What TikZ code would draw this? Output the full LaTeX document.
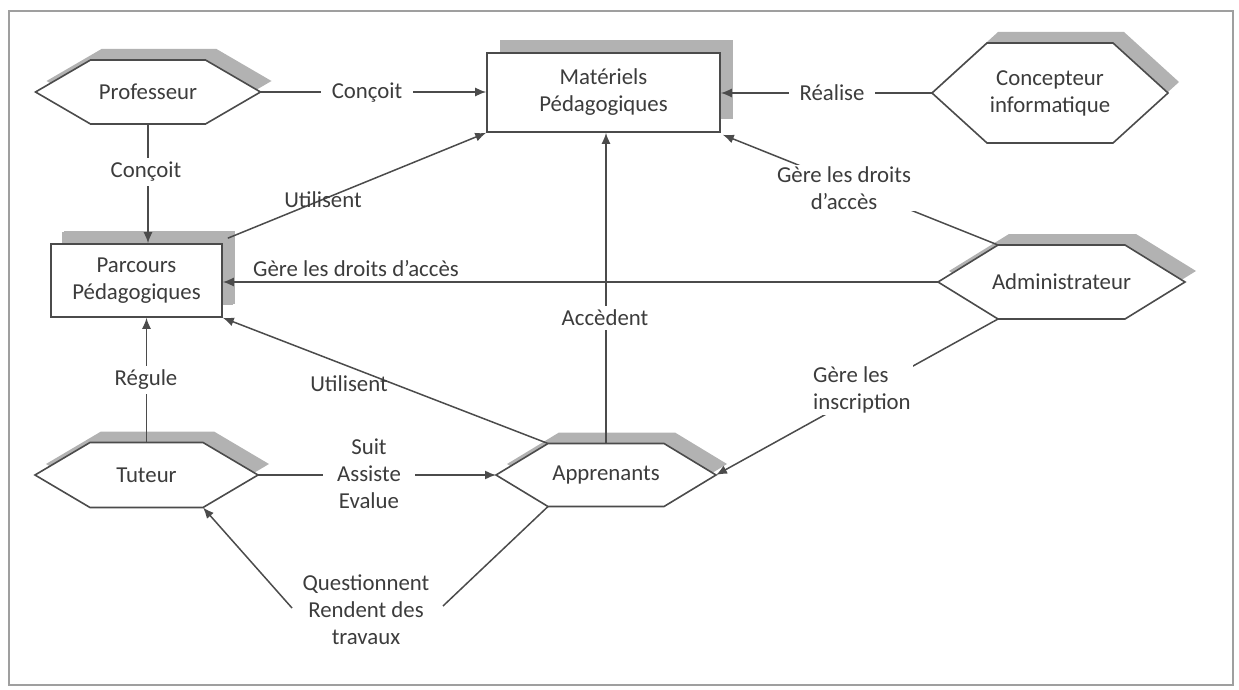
\documentclass[tikz,border=0pt]{standalone}
\usepackage{fontspec}
\setmainfont{Carlito}
\usetikzlibrary{arrows.meta,calc,shadows}
\definecolor{lc}{RGB}{75,75,75}
\definecolor{sh}{RGB}{178,178,178}
\definecolor{tc}{RGB}{60,60,60}
\tikzset{
  lbl/.style={text=tc, font=\fontsize{22.8}{27}\selectfont, align=center, inner sep=2pt},
  onl/.style={lbl, fill=white},
  wide/.style={onl, inner xsep=11pt, inner ysep=4pt},
  conn/.style={draw=lc, line width=1.5pt},
  arr/.style={conn, -{Latex[length=11pt,width=9pt]}},
  boxnode/.style={lbl, draw=lc, line width=1.6pt, fill=white,
    general shadow={fill=sh, shadow xshift=13pt, shadow yshift=13pt}},
}
% #1 name, #2 cx, #3 cy, #4 half top width, #5 half height, #6 tip, #7 text, #8 shadow offset
\newcommand\HexShape[8]{%
  \fill[sh] ({#2-#4+#8},{#3-#5-#8}) -- ({#2+#4+#8},{#3-#5-#8}) -- ({#2+#4+#6+#8},{#3-#8})
     -- ({#2+#4+#8},{#3+#5-#8}) -- ({#2-#4+#8},{#3+#5-#8}) -- ({#2-#4-#6+#8},{#3-#8}) -- cycle;
  \filldraw[fill=white, draw=lc, line width=1.6pt] ({#2-#4},{#3-#5}) -- ({#2+#4},{#3-#5}) -- ({#2+#4+#6},{#3})
     -- ({#2+#4},{#3+#5}) -- ({#2-#4},{#3+#5}) -- ({#2-#4-#6},{#3}) -- cycle;
  \node[lbl] (#1) at (#2,#3) {#7};
  \coordinate (#1-tl) at ({#2-#4},{#3-#5});
  \coordinate (#1-tr) at ({#2+#4},{#3-#5});
  \coordinate (#1-bl) at ({#2-#4},{#3+#5});
  \coordinate (#1-br) at ({#2+#4},{#3+#5});
  \coordinate (#1-l) at ({#2-#4-#6},{#3});
  \coordinate (#1-r) at ({#2+#4+#6},{#3});
  \coordinate (#1-t) at ({#2},{#3-#5});
  \coordinate (#1-b) at ({#2},{#3+#5});
}
\begin{document}
\begin{tikzpicture}[x=1pt,y=-1pt]
\useasboundingbox (0,0) rectangle (1239,690);
\draw[gray!75, line width=2pt] (9,11) rectangle (1233,685);

% shapes
\HexShape{prof}{148}{92}{57.5}{32}{55}{Professeur}{11}
\HexShape{conc}{1050}{93}{63}{50}{55}{Concepteur\\informatique}{11}
\HexShape{adm}{1061.5}{282}{63.5}{37}{60}{Administrateur}{11}
\HexShape{app}{606}{475}{58}{31.5}{52}{Apprenants}{11}
\HexShape{tut}{146.5}{475}{56.5}{32.5}{55}{Tuteur}{11}

\node[boxnode, minimum width=233pt, minimum height=79pt] (mat) at (603.5,92.5) {Matériels\\Pédagogiques};
\node[boxnode, minimum width=171pt, minimum height=73pt, general shadow={fill=sh, shadow xshift=11pt, shadow yshift=12pt}] (parc) at (136.5,280.5) {Parcours\\Pédagogiques};

\coordinate (parc-ne) at ($(parc.north east)+(5,-5)$);
\coordinate (q-l) at (292,608);
\coordinate (q-r) at (443,606);

% connectors
\draw[arr] (prof-r) -- (prof-r -| mat.west);
\draw[arr] (conc-l) -- (conc-l -| mat.east);
\draw[arr] (prof-b) -- (prof-b |- parc.north);
\draw[arr] (parc-ne) -- (mat.south west);
\draw[arr] (adm-tl) -- ($(mat.south east)+(2,2)$);
\draw[arr] (adm-l) -- (adm-l -| parc.east);
\draw[arr] (app-t) -- (app-t |- mat.south);
\draw[arr] (app-tl) -- (parc.south east);
\draw[arr] (tut-t) -- (tut-t |- parc.south);
\draw[arr] (tut-r) -- (app-l);
\draw[arr] (adm-bl) -- (app-r);
\draw[conn] (app-bl) -- (q-r);
\draw[arr] (q-l) -- (tut-br);

% labels
\node[wide] (l1) at (367,93) {Conçoit};
\node[wide] (l2) at (146,172) {Conçoit};
\node[wide] (l3) at (832,93) {Réalise};
\node[lbl] (l4) at (323,200) {Utilisent};
\node[onl, inner xsep=6pt] (l5) at (844,188) {Gère les droits\\d'accès};
\node[lbl] (l6) at (356,269) {Gère les droits d'accès};
\node[wide] (l7) at (605,318) {Accèdent};
\node[lbl] (l8) at (349,384) {Utilisent};
\node[wide] (l9) at (146,380) {Régule};
\node[wide, inner xsep=14pt] (l10) at (369,474) {Suit\\Assiste\\Evalue};
\node[onl, align=left, anchor=west] (l11) at (811,390) {Gère les\\inscription};
\node[lbl] (l12) at (366,610) {Questionnent\\Rendent des\\travaux};
\end{tikzpicture}
\end{document}
